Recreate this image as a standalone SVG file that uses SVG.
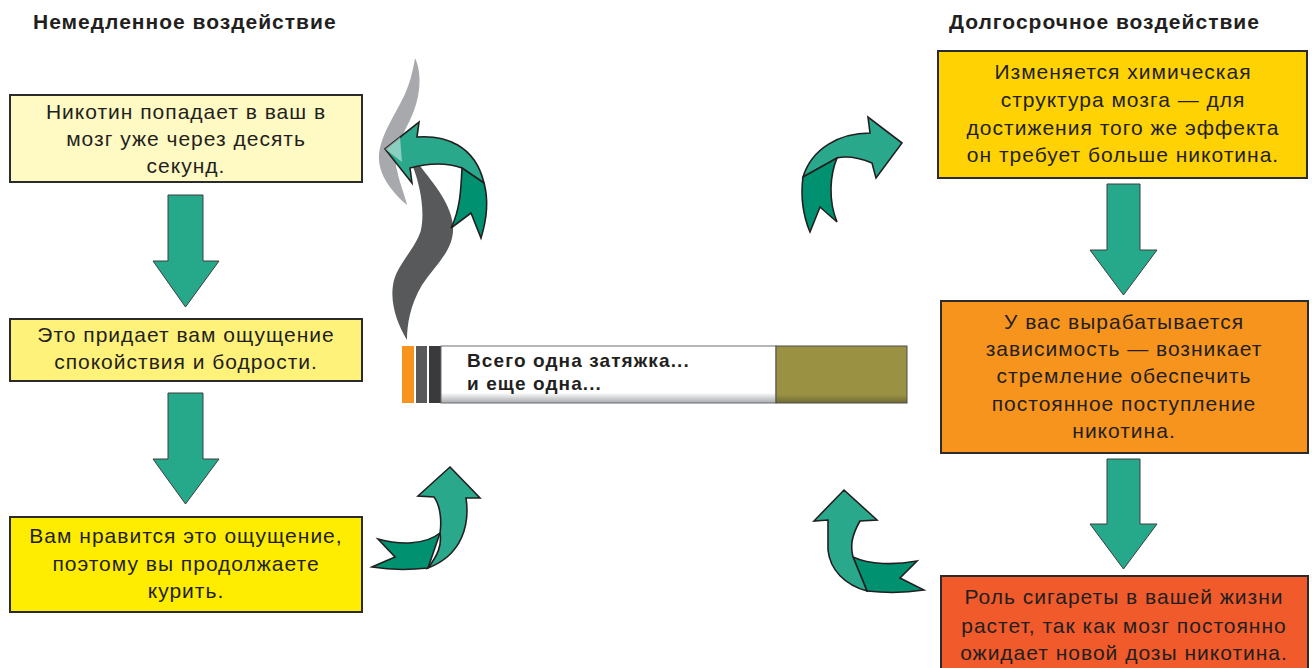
<svg xmlns="http://www.w3.org/2000/svg" width="1312" height="668" viewBox="0 0 1312 668">
<defs>
<style>
.title{font-family:"Liberation Sans",Arial,sans-serif;font-weight:bold;font-size:21px;letter-spacing:1px;fill:#231F20}
.bt{font-family:"Liberation Sans",Arial,sans-serif;font-size:21px;letter-spacing:1px;fill:#231F20;text-anchor:middle}
.box{stroke:#2b2b2b;stroke-width:2}
.down{fill:#26A98B;stroke:#3d3d3d;stroke-width:1}
.cl{fill:#2AA88B;stroke:#231F20;stroke-width:1.6;stroke-linejoin:miter}
.cd{fill:#009270;stroke:#231F20;stroke-width:1.6;stroke-linejoin:miter}
.cig{font-family:"Liberation Sans",Arial,sans-serif;font-weight:bold;font-size:19px;letter-spacing:1.1px;fill:#231F20}
</style>
<linearGradient id="paper" x1="0" y1="0" x2="0" y2="1">
<stop offset="0" stop-color="#ffffff"/>
<stop offset="0.82" stop-color="#ffffff"/>
<stop offset="1" stop-color="#a7a9ac"/>
</linearGradient>
<linearGradient id="filt" x1="0" y1="0" x2="0" y2="1">
<stop offset="0" stop-color="#9A9242"/>
<stop offset="0.85" stop-color="#9A9242"/>
<stop offset="1" stop-color="#6f6a33"/>
</linearGradient>
</defs>
<rect width="1312" height="668" fill="#ffffff"/>

<text class="title" x="33" y="29">Немедленное воздействие</text>
<text class="title" x="949" y="29">Долгосрочное воздействие</text>

<g id="connectors">
<polygon class="down" points="168,195 203,195 203,261 219,261 185.5,307 153,261 168,261"/>
<polygon class="down" points="168,393 203,393 203,459 219,459 185.5,504 153,459 168,459"/>
<polygon class="down" points="1107,184 1140,184 1140,250 1157,250 1123.5,295 1090,250 1107,250"/>
<polygon class="down" points="1107,459 1140,459 1140,524 1157,524 1123.5,569 1090,524 1107,524"/>
<g id="curved-top-right">
<path class="cl" d="M902,143 L868,117 L870,133 C840,133 812,148 803,177 L837,158 C850,155 862,159 872,163 L876,178 Z"/>
<path class="cd" d="M803,177 C800,200 805,220 810,232 L820,207 L837,222 C828,200 830,175 837,158 Z"/>
</g>
<g id="curved-bottom-left">
<path class="cd" d="M440,533 C425,545 400,545 378,539 L395,557 L372,567 C390,570 410,570 428,568 Z"/>
<path class="cl" d="M450,467 L480,498 L466,498 C470,525 462,555 428,568 C438,555 442,545 440,533 C442,520 440,505 434,497 L418,496 Z"/>
</g>
<g id="curved-bottom-right">
<path class="cd" d="M853,557 C870,565 895,565 917,561 L900,578 L924,590 C905,593 885,593 867,591 Z"/>
<path class="cl" d="M844,490 L877,520 L860,521 C852,535 850,545 853,557 L867,591 C845,585 830,570 828,550 L828,520 L814,521 Z"/>
</g>
</g>

<g id="smoke">
<path d="M418,163 C430,180 450,200 453,225 C455,250 435,265 422,285 C410,305 407,325 407,340 C398,325 390,305 393,285 C396,265 415,250 421,230 C425,210 420,185 413,167 Z" fill="#58595B"/>
<path d="M415,58 C423,75 420,100 410,120 C400,140 393,155 397,170 C400,185 405,195 407,205 C395,195 380,178 379,160 C378,140 392,120 402,100 C410,85 413,70 415,58 Z" fill="#A7A9AC"/>
<g id="curved-top">
<path class="cl" d="M385,149 L419,122 L417,137 C445,135 475,145 484,183 L462,168 C445,162 425,164 410,168 L412,183 Z"/>
<path class="cd" d="M484,183 C490,205 485,225 481,238 L471,213 L451,228 C460,210 461,190 462,168 Z"/>
</g>
<path d="M385,149 L400,137 L402,162 Z" fill="#ffffff" opacity="0.45"/>
</g>

<g id="cigarette">
<rect x="402" y="346" width="12" height="57" fill="#F7941D"/>
<rect x="416" y="346" width="11" height="57" fill="#58595B"/>
<rect x="429" y="346" width="12" height="57" fill="#3A3A3C"/>
<rect x="441" y="346" width="335" height="57" fill="url(#paper)" stroke="#6d6e71" stroke-width="1"/>
<rect x="776" y="346" width="131" height="57" fill="url(#filt)" stroke="#4d4d4f" stroke-width="1"/>
<text class="cig" x="467" y="367">Всего одна затяжка...</text>
<text class="cig" x="467" y="390">и еще одна...</text>
</g>

<g id="box-l1">
<rect class="box" x="10" y="95" width="352" height="87" fill="#FFF9C3"/>
<text class="bt" x="186" y="119">Никотин попадает в ваш в</text>
<text class="bt" x="186" y="146">мозг уже через десять</text>
<text class="bt" x="186" y="173">секунд.</text>
</g>
<g id="box-l2">
<rect class="box" x="10" y="319" width="352" height="62" fill="#FFF27A"/>
<text class="bt" x="186" y="342">Это придает вам ощущение</text>
<text class="bt" x="186" y="369">спокойствия и бодрости.</text>
</g>
<g id="box-l3">
<rect class="box" x="10" y="517" width="352" height="95" fill="#FFED00"/>
<text class="bt" x="186" y="543">Вам нравится это ощущение,</text>
<text class="bt" x="186" y="571">поэтому вы продолжаете</text>
<text class="bt" x="186" y="598">курить.</text>
</g>
<g id="box-r1">
<rect class="box" x="938" y="51" width="369" height="127" fill="#FFD204"/>
<text class="bt" x="1123" y="79">Изменяется химическая</text>
<text class="bt" x="1123" y="107">структура мозга — для</text>
<text class="bt" x="1123" y="135">достижения того же эффекта</text>
<text class="bt" x="1123" y="162">он требует больше никотина.</text>
</g>
<g id="box-r2">
<rect class="box" x="941" y="301" width="367" height="152" fill="#F7941E"/>
<text class="bt" x="1124" y="329">У вас вырабатывается</text>
<text class="bt" x="1124" y="356">зависимость — возникает</text>
<text class="bt" x="1124" y="383">стремление обеспечить</text>
<text class="bt" x="1124" y="411">постоянное поступление</text>
<text class="bt" x="1124" y="438">никотина.</text>
</g>
<g id="box-r3">
<rect class="box" x="941" y="576" width="367" height="100" fill="#F15A2B"/>
<text class="bt" x="1124" y="604">Роль сигареты в вашей жизни</text>
<text class="bt" x="1124" y="633">растет, так как мозг постоянно</text>
<text class="bt" x="1124" y="660">ожидает новой дозы никотина.</text>
</g>
</svg>
